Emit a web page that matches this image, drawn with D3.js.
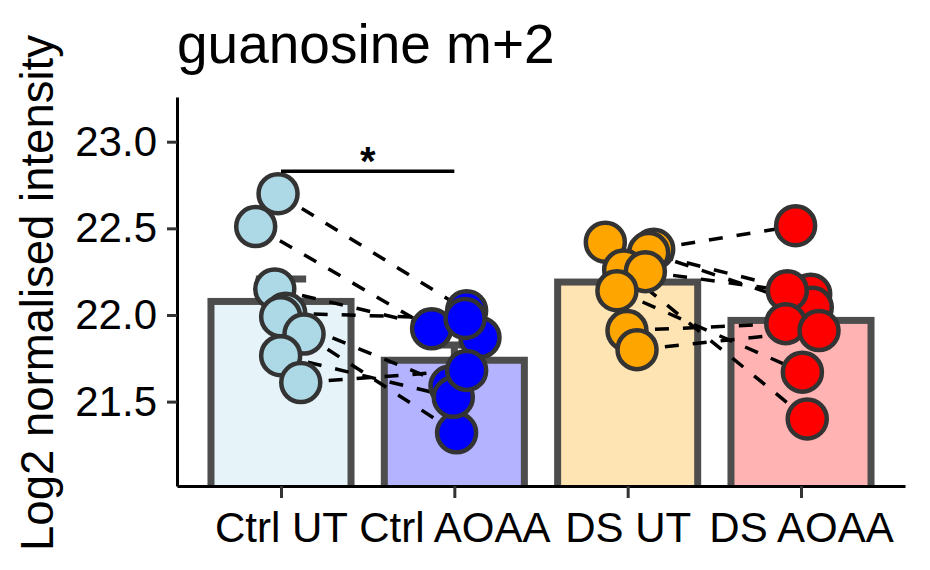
<!DOCTYPE html>
<html>
<head>
<meta charset="utf-8">
<script src="https://cdn.jsdelivr.net/npm/d3@7"></script>
<style>
  body { margin: 0; background: #fff; }
  svg { display: block; font-family: "Liberation Sans", Arial, sans-serif; }
</style>
</head>
<body>
<div id="chart"></div>
<script>
// groups in plotting order
const groups = ["Ctrl UT", "Ctrl AOAA", "DS UT", "DS AOAA"];

// log2 intensities, index i of UT is paired with index i of AOAA
const ctrlUT   = [22.70, 22.51, 22.15, 22.01, 21.99, 21.89, 21.765, 21.61];
const ctrlAOAA = [22.025, 21.92, 21.87, 21.98, 21.59, 21.32, 21.525, 21.68];
const dsUT     = [22.42, 22.38, 22.36, 22.26, 22.25, 22.14, 21.91, 21.80];
const dsAOAA   = [22.12, 22.515, 22.044, 21.40, 22.14, 21.67, 21.95, 21.91];

// horizontal jitter, in category units
const ctrlUTJitter   = [-0.017, -0.146, -0.036, 0.027, -0.002, 0.133, -0.002, 0.114];
const ctrlAOAAJitter = [0.071, -0.131, 0.148, 0.062, -0.025, 0.013, -0.006, 0.071];
const dsUTJitter     = [-0.129, 0.15, 0.121, -0.023, 0.102, -0.062, -0.004, 0.054];
const dsAOAAJitter   = [0.056, -0.031, 0.065, 0.036, -0.079, 0.008, -0.088, 0.104];

const yTicks = [21.5, 22.0, 22.5, 23.0];
const yDomain = [21.013, 23.258];
const pairs = [[0, 1], [2, 3]];
const signif = { from: 0, to: 1, y: 22.83, label: "*" };

const pointFill = ["#ADD8E6", "#0000FF", "#FFA500", "#FF0000"];
const barFill = ["#E6F3F8", "#B3B3FF", "#FFE4B3", "#FFB3B3"];

const values = [ctrlUT, ctrlAOAA, dsUT, dsAOAA];
const jitters = [ctrlUTJitter, ctrlAOAAJitter, dsUTJitter, dsAOAAJitter];

const W = 930, H = 570;
const plot = { left: 177, right: 905, top: 97, bottom: 486 };

const svg = d3.select("#chart").append("svg")
  .attr("width", W)
  .attr("height", H);

const x = d3.scalePoint()
  .domain(groups)
  .range([plot.left, plot.right])
  .padding(0.6);
const step = x.step();

const y = d3.scaleLinear()
  .domain(yDomain)
  .range([plot.bottom, plot.top]);

const stats = groups.map((g, i) => {
  const v = values[i];
  const m = d3.mean(v);
  const se = d3.deviation(v) / Math.sqrt(v.length);
  return { group: g, i: i, mean: m, se: se };
});

const points = [];
groups.forEach((g, i) => {
  values[i].forEach((v, j) => {
    points.push({ group: i, idx: j, value: v, px: x(g) + jitters[i][j] * step, py: y(v) });
  });
});

svg.append("defs").append("clipPath")
  .attr("id", "clip")
  .append("rect")
  .attr("x", plot.left)
  .attr("y", 0)
  .attr("width", plot.right - plot.left)
  .attr("height", plot.bottom);

const g = svg.append("g").attr("clip-path", "url(#clip)");

// error bars (mean +/- se), under the bars
const capHalf = step * 0.145;
g.append("g").selectAll("g")
  .data(stats)
  .join("g")
  .each(function(d) {
    const s = d3.select(this);
    const cx = x(d.group);
    s.append("line")
      .attr("x1", cx).attr("x2", cx)
      .attr("y1", y(d.mean - d.se)).attr("y2", y(d.mean + d.se));
    s.append("line")
      .attr("x1", cx - capHalf).attr("x2", cx + capHalf)
      .attr("y1", y(d.mean + d.se)).attr("y2", y(d.mean + d.se));
    s.append("line")
      .attr("x1", cx - capHalf).attr("x2", cx + capHalf)
      .attr("y1", y(d.mean - d.se)).attr("y2", y(d.mean - d.se));
  })
  .attr("stroke", "#4D4D4D")
  .attr("stroke-width", 7);

// bars
const barW = step * 0.808;
g.append("g").selectAll("rect")
  .data(stats)
  .join("rect")
  .attr("x", d => x(d.group) - barW / 2)
  .attr("y", d => y(d.mean))
  .attr("width", barW)
  .attr("height", d => plot.bottom + 20 - y(d.mean))
  .attr("fill", d => barFill[d.i])
  .attr("stroke", "#4D4D4D")
  .attr("stroke-width", 7);

// paired dashed lines
const lineData = [];
pairs.forEach(([a, b]) => {
  values[a].forEach((v, j) => {
    const p1 = points.find(p => p.group === a && p.idx === j);
    const p2 = points.find(p => p.group === b && p.idx === j);
    lineData.push([p1, p2]);
  });
});

g.append("g").selectAll("path")
  .data(lineData)
  .join("path")
  .attr("d", d3.line().x(d => d.px).y(d => d.py))
  .attr("fill", "none")
  .attr("stroke", "#000")
  .attr("stroke-width", 3.5)
  .attr("stroke-dasharray", "14,14");

// points
g.append("g").selectAll("circle")
  .data(points)
  .join("circle")
  .attr("cx", d => d.px)
  .attr("cy", d => d.py)
  .attr("r", 19.5)
  .attr("fill", d => pointFill[d.group])
  .attr("stroke", "#333333")
  .attr("stroke-width", 4.5);

// significance bar
svg.append("line")
  .attr("x1", x(groups[signif.from]))
  .attr("x2", x(groups[signif.to]))
  .attr("y1", y(signif.y))
  .attr("y2", y(signif.y))
  .attr("stroke", "#000")
  .attr("stroke-width", 3.5);

svg.append("text")
  .attr("x", (x(groups[signif.from]) + x(groups[signif.to])) / 2)
  .attr("y", y(signif.y) + 4)
  .attr("text-anchor", "middle")
  .attr("font-size", 40)
  .attr("font-weight", "bold")
  .attr("fill", "#000")
  .text(signif.label);

// axes
const yAxis = d3.axisLeft(y)
  .tickValues(yTicks)
  .tickFormat(d3.format(".1f"))
  .tickSize(10)
  .tickSizeOuter(0)
  .tickPadding(10);

const xAxis = d3.axisBottom(x)
  .tickSize(12)
  .tickSizeOuter(0)
  .tickPadding(14);

const gy = svg.append("g")
  .attr("transform", `translate(${plot.left},0)`)
  .call(yAxis);

const gx = svg.append("g")
  .attr("transform", `translate(0,${plot.bottom})`)
  .call(xAxis);

[gx, gy].forEach(a => {
  a.select(".domain").attr("stroke", "#000").attr("stroke-width", 3);
  a.selectAll(".tick line").attr("stroke", "#333333").attr("stroke-width", 3);
  a.selectAll(".tick text")
    .attr("fill", "#000")
    .attr("font-size", 42)
    .attr("font-family", "Liberation Sans, Arial, sans-serif");
});

// y axis title
svg.append("text")
  .attr("transform", "translate(53,293) rotate(-90)")
  .attr("text-anchor", "middle")
  .attr("font-size", 45.5)
  .attr("fill", "#000")
  .text("Log2 normalised intensity");

// plot title
svg.append("text")
  .attr("x", 177)
  .attr("y", 63)
  .attr("font-size", 55)
  .attr("fill", "#000")
  .text("guanosine m+2");
</script>
</body>
</html>
